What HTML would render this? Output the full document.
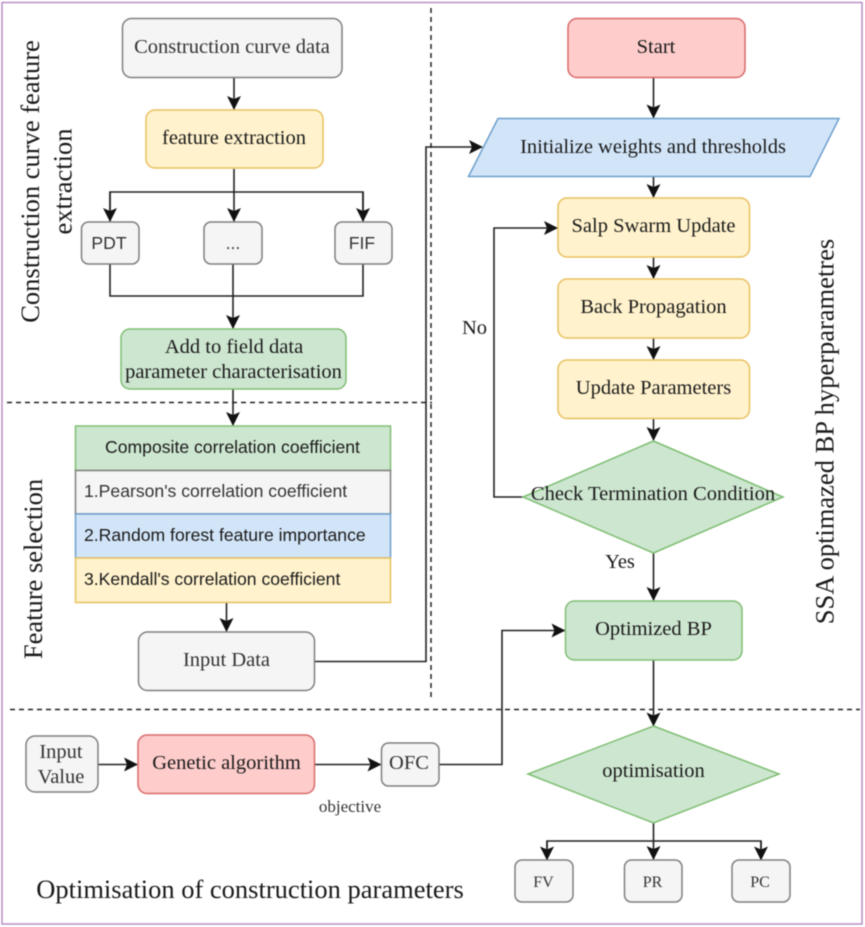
<!DOCTYPE html>
<html><head><meta charset="utf-8">
<style>
html,body{margin:0;padding:0;background:#fff;width:865px;height:927px;overflow:hidden}
svg{display:block;filter:blur(.45px)}
text{font-family:"Liberation Serif",serif;fill:#1a1a1a;text-anchor:middle}
.s{font-family:"Liberation Sans",sans-serif}
.l{text-anchor:start}
.g{fill:#333}
.line{fill:none;stroke:#222;stroke-width:1.6}
.d{fill:none;stroke:#222;stroke-width:1.5;stroke-dasharray:5 4}
.gr{fill:#f5f5f5;stroke:#7f7f7f;stroke-width:1.5}
.ye{fill:#fff2cc;stroke:#e8c15f;stroke-width:1.5}
.gn{fill:#cde6d0;stroke:#7fbe73;stroke-width:1.5}
.re{fill:#fdcccb;stroke:#d96a6a;stroke-width:1.5}
.bl{fill:#d2e5f8;stroke:#6d9fcc;stroke-width:1.5}
</style></head><body>
<svg width="865" height="927" viewBox="0 0 865 927" xmlns="http://www.w3.org/2000/svg">
<defs>
<marker id="a" markerUnits="userSpaceOnUse" markerWidth="15" markerHeight="15" refX="13" refY="7" orient="auto">
<path d="M0 0L14 7L0 14L3 7Z" fill="#111"/>
</marker>
</defs>
<rect x="2" y="2.5" width="860" height="921.5" fill="#fff" stroke="#b78fc4" stroke-width="1.5"/>
<path class="d" d="M7 402.5H432"/>
<path class="d" d="M431 8V700"/>
<path class="d" d="M10 709.5H860"/>

<g class="line">
<path d="M234 78V109" marker-end="url(#a)"/>
<path d="M234 169V221" marker-end="url(#a)"/>
<path d="M110 221V192H363V221" fill="none"/>
<path d="M110 192V221" marker-end="url(#a)"/>
<path d="M363 192V221" marker-end="url(#a)"/>
<path d="M110 264V296H363V264"/>
<path d="M233 264V328" marker-end="url(#a)"/>
<path d="M233 389V425" marker-end="url(#a)"/>
<path d="M226.500 603V631" marker-end="url(#a)"/>
<path d="M315 661.500H426V147H482" marker-end="url(#a)"/>
<path d="M98 764.500H137" marker-end="url(#a)"/>
<path d="M315 764.500H380.500" marker-end="url(#a)"/>
<path d="M439 764.500H502V630.500H564.500" marker-end="url(#a)"/>
<path d="M653.500 78V117.500" marker-end="url(#a)"/>
<path d="M653.500 177V197" marker-end="url(#a)"/>
<path d="M653.500 257V278" marker-end="url(#a)"/>
<path d="M653.500 338V359" marker-end="url(#a)"/>
<path d="M653.500 419V440" marker-end="url(#a)"/>
<path d="M523 497H494V228H557" marker-end="url(#a)"/>
<path d="M653.500 553V600" marker-end="url(#a)"/>
<path d="M653.500 660V725.500" marker-end="url(#a)"/>
<path d="M653.500 823V859" marker-end="url(#a)"/>
<path d="M547 859V841H761V859"/>
<path d="M547 841V859.500" marker-end="url(#a)"/>
<path d="M761 841V859.500" marker-end="url(#a)"/>
</g>

<rect class="gr" x="122.500" y="18.500" width="219.500" height="59" rx="9"/>
<rect class="ye" x="146" y="110" width="177" height="58" rx="9"/>
<rect class="gr" x="81.500" y="222" width="57.500" height="42" rx="7"/>
<rect class="gr" x="204" y="222" width="58" height="42" rx="7"/>
<rect class="gr" x="335" y="222" width="57" height="42" rx="7"/>
<rect class="gn" x="121" y="329" width="225" height="60" rx="9"/>
<rect class="gn" x="75.500" y="426" width="315" height="44.500"/>
<rect class="gr" x="75.500" y="470.500" width="315" height="43.500"/>
<rect class="bl" x="75.500" y="514" width="315" height="44"/>
<rect class="ye" x="75.500" y="558" width="315" height="44.500"/>
<rect class="gr" x="138.500" y="632" width="176" height="58.500" rx="9"/>
<rect class="gr" x="26" y="736" width="72" height="56" rx="9"/>
<rect class="re" x="138" y="735" width="176.500" height="58.500" rx="9"/>
<rect class="gr" x="381.500" y="743" width="57.500" height="43" rx="7"/>
<rect class="re" x="568" y="18.500" width="177" height="59" rx="9"/>
<polygon class="bl" points="498,118.500 839,118.500 810,176.500 468.500,176.500"/>
<rect class="ye" x="558" y="198" width="191.500" height="59" rx="9"/>
<rect class="ye" x="558" y="279" width="191.500" height="59" rx="9"/>
<rect class="ye" x="558" y="360" width="191.500" height="58.500" rx="9"/>
<polygon class="gn" points="653.500,441 783,497 653.500,553 523,497"/>
<rect class="gn" x="565.500" y="601" width="176.500" height="59" rx="9"/>
<polygon class="gn" points="653.500,726 779,774 653.500,823 528,774"/>
<rect class="gr" x="515" y="860" width="58" height="42" rx="7"/>
<rect class="gr" x="624.500" y="860" width="57.500" height="42" rx="7"/>
<rect class="gr" x="732" y="860" width="58" height="42" rx="7"/>

<g font-size="20.500">
<text class="g" x="232" y="53">Construction curve data</text>
<text x="234" y="144">feature extraction</text>
<text x="234" y="353">Add to field data</text>
<text x="233.500" y="378">parameter characterisation</text>
<text class="g" x="226.500" y="666">Input Data</text>
<text class="g" x="61" y="758">Input</text>
<text class="g" x="61" y="783">Value</text>
<text x="226.500" y="769">Genetic algorithm</text>
<text class="g" x="409" y="769">OFC</text>
<text x="656" y="53">Start</text>
<text x="653" y="153">Initialize weights and thresholds</text>
<text x="653.500" y="232">Salp Swarm Update</text>
<text x="653.500" y="313">Back Propagation</text>
<text x="653.500" y="394">Update Parameters</text>
<text x="653" y="500">Check Termination Condition</text>
<text x="620" y="568">Yes</text>
<text x="474.500" y="334">No</text>
<text x="653.500" y="635">Optimized BP</text>
<text x="653.500" y="777">optimisation</text>
</g>
<text class="g" font-size="17" x="350" y="812">objective</text>
<g font-size="16">
<text class="g" x="543.500" y="887">FV</text>
<text class="g" x="652.500" y="887">PR</text>
<text class="g" x="760" y="887">PC</text>
</g>
<g class="s" font-size="17.600">
<text class="s g" x="109" y="249">PDT</text>
<text class="s g" x="233" y="249">...</text>
<text class="s g" x="362" y="249">FIF</text>
<text class="s" x="232.500" y="453">Composite correlation coefficient</text>
<text class="s l g" x="84" y="497">1.Pearson's correlation coefficient</text>
<text class="s l" x="84" y="541">2.Random forest feature importance</text>
<text class="s l" x="84" y="585">3.Kendall's correlation coefficient</text>
</g>
<g font-size="26.500">
<text transform="translate(39,181.500) rotate(-90)">Construction curve feature</text>
<text transform="translate(71.500,181.500) rotate(-90)">extraction</text>
<text transform="translate(42,569) rotate(-90)">Feature selection</text>
<text transform="translate(833.500,431.500) rotate(-90)">SSA optimazed BP hyperparametres</text>
<text x="250" y="898">Optimisation of construction parameters</text>
</g>
</svg>
</body></html>
